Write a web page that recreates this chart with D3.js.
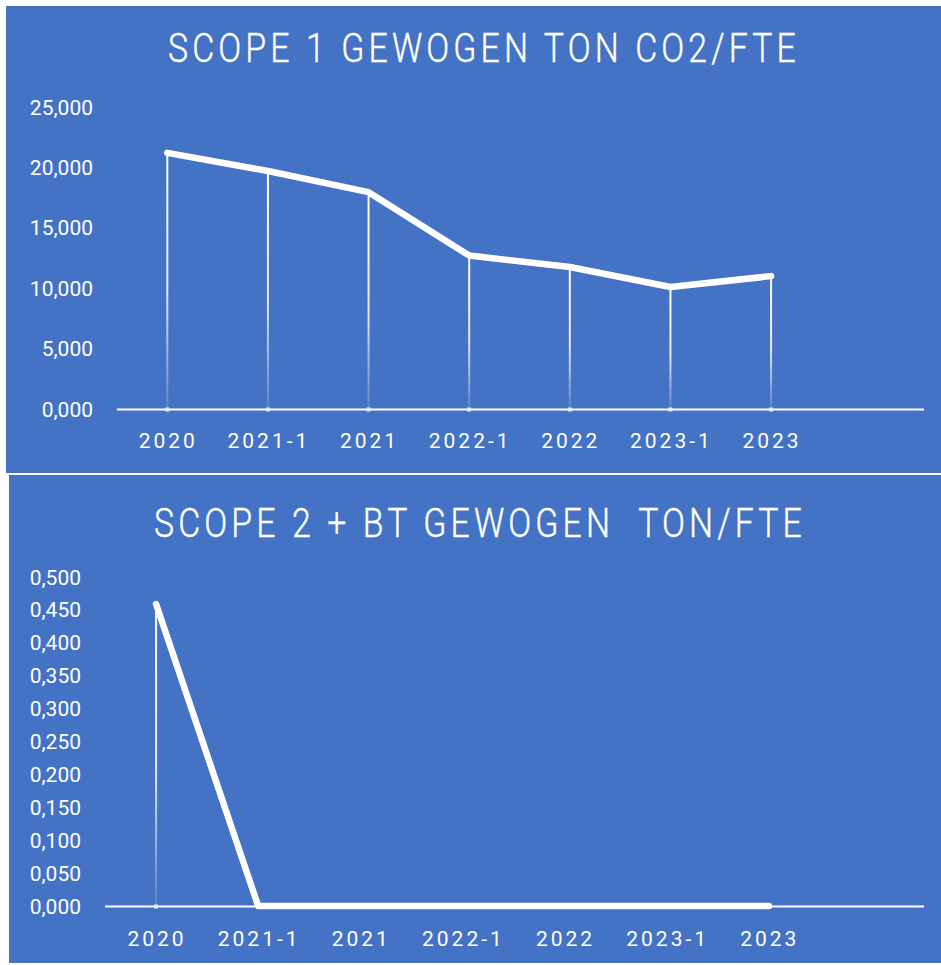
<!DOCTYPE html>
<html>
<head>
<meta charset="utf-8">
<script src="https://cdn.jsdelivr.net/npm/d3@7/dist/d3.min.js"></script>
<style>
  html, body { margin: 0; padding: 0; background: #fff; }
  svg { display: block; }
  .title { font-family: Roboto, sans-serif; font-weight: 300; fill: #fff; letter-spacing: 5px; }
  .tick-label { font-family: Roboto, sans-serif; fill: #fff; font-size: 21px; }
  .cat-label { font-family: Roboto, sans-serif; fill: #fff; font-size: 21px; letter-spacing: 3px; }
</style>
</head>
<body>
<div id="viz"></div>
<script>
// categories (last slot is empty, as in the source chart)
var categories = ["2020", "2021-1", "2021", "2022-1", "2022", "2023-1", "2023", ""];

var scope1Values = [21.2, 19.7, 17.95, 12.7, 11.75, 10.1, 11.0];
var scope1Ticks = [0, 5, 10, 15, 20, 25];

var scope2Values = [0.459, 0, 0, 0, 0, 0, 0];
var scope2Ticks = [0, 0.05, 0.1, 0.15, 0.2, 0.25, 0.3, 0.35, 0.4, 0.45, 0.5];

var nl = d3.formatLocale({decimal: ",", thousands: ".", grouping: [3], currency: ["€", ""]});
var fmt = nl.format(".3f");

var W = 941, H = 965;
var blue = "#4472C4";

var svg = d3.select("#viz").append("svg")
    .attr("width", W)
    .attr("height", H);

var defs = svg.append("defs");
var grad = defs.append("linearGradient")
    .attr("id", "dropGrad")
    .attr("x1", 0).attr("y1", 0).attr("x2", 0).attr("y2", 1);
grad.append("stop").attr("offset", "0%").attr("stop-color", "#fff").attr("stop-opacity", 1);
grad.append("stop").attr("offset", "55%").attr("stop-color", "#fff").attr("stop-opacity", 0.85);
grad.append("stop").attr("offset", "100%").attr("stop-color", "#fff").attr("stop-opacity", 0.12);

function drawPanel(cfg) {
    var g = svg.append("g");

    g.append("rect")
        .attr("x", cfg.box[0]).attr("y", cfg.box[1])
        .attr("width", cfg.box[2]).attr("height", cfg.box[3])
        .attr("fill", blue);

    // condensed look: squeeze horizontally around the centre
    g.append("text")
        .attr("class", "title")
        .attr("transform", "translate(" + cfg.titleX + "," + cfg.titleY + ") scale(0.825,1)")
        .attr("text-anchor", "middle")
        .attr("font-size", 41)
        .attr("stroke", "#fff")
        .attr("stroke-width", 0.4)
        .attr("xml:space", "preserve")
        .style("white-space", "pre")
        .text(cfg.title);

    var x = d3.scaleBand()
        .domain(categories)
        .range(cfg.xRange);

    var y = d3.scaleLinear()
        .domain([0, cfg.ticks[cfg.ticks.length - 1]])
        .range(cfg.yRange);

    // y tick labels
    g.selectAll(".tick-label")
        .data(cfg.ticks)
        .enter()
        .append("text")
        .attr("class", "tick-label")
        .attr("x", cfg.labelX)
        .attr("y", function(d) { return y(d); })
        .attr("dy", "0.36em")
        .attr("text-anchor", "end")
        .text(function(d) { return fmt(d); });

    var pts = cfg.values.map(function(v, i) { return {cat: categories[i], v: v}; });
    var cx = function(d) { return x(d.cat) + x.bandwidth() / 2; };

    // drop lines
    g.selectAll(".drop")
        .data(pts.filter(function(d) { return d.v > 0; }))
        .enter()
        .append("rect")
        .attr("class", "drop")
        .attr("x", function(d) { return cx(d) - 1; })
        .attr("y", function(d) { return y(d.v); })
        .attr("width", 2)
        .attr("height", function(d) { return y(0) - y(d.v); })
        .attr("fill", "url(#dropGrad)");

    // x axis line
    g.append("line")
        .attr("x1", cfg.xRange[0]).attr("x2", cfg.xRange[1] + 2)
        .attr("y1", y(0) + 0.5).attr("y2", y(0) + 0.5)
        .attr("stroke", "#fff")
        .attr("stroke-width", 2);

    // tick marks at categories
    g.selectAll(".tickmark")
        .data(pts)
        .enter()
        .append("rect")
        .attr("class", "tickmark")
        .attr("x", function(d) { return cx(d) - 2; })
        .attr("y", y(0) - 1.5)
        .attr("width", 4)
        .attr("height", 4)
        .attr("fill", "#e8eef8");

    // category labels
    g.selectAll(".cat-label")
        .data(categories.filter(function(c) { return c !== ""; }))
        .enter()
        .append("text")
        .attr("class", "cat-label")
        .attr("x", function(d) { return x(d) + x.bandwidth() / 2 + 1; })
        .attr("y", cfg.catY)
        .attr("text-anchor", "middle")
        .text(function(d) { return d; });

    var line = d3.line()
        .x(cx)
        .y(function(d) { return y(d.v); });

    g.append("path")
        .datum(pts)
        .attr("d", line)
        .attr("fill", "none")
        .attr("stroke", "#fff")
        .attr("stroke-width", 6.5)
        .attr("stroke-linejoin", "round")
        .attr("stroke-linecap", "round");
}

drawPanel({
    box: [6, 6, W - 6, 467],
    title: "SCOPE 1 GEWOGEN TON CO2/FTE",
    titleX: 484, titleY: 62,
    values: scope1Values,
    ticks: scope1Ticks,
    xRange: [117, 922],
    yRange: [409, 107],
    labelX: 93,
    catY: 448
});

drawPanel({
    box: [9, 475, W - 9, 488],
    title: "SCOPE 2 + BT GEWOGEN  TON/FTE",
    titleX: 480, titleY: 537,
    values: scope2Values,
    ticks: scope2Ticks,
    xRange: [105, 922],
    yRange: [906, 577],
    labelX: 81,
    catY: 946
});
</script>
</body>
</html>
